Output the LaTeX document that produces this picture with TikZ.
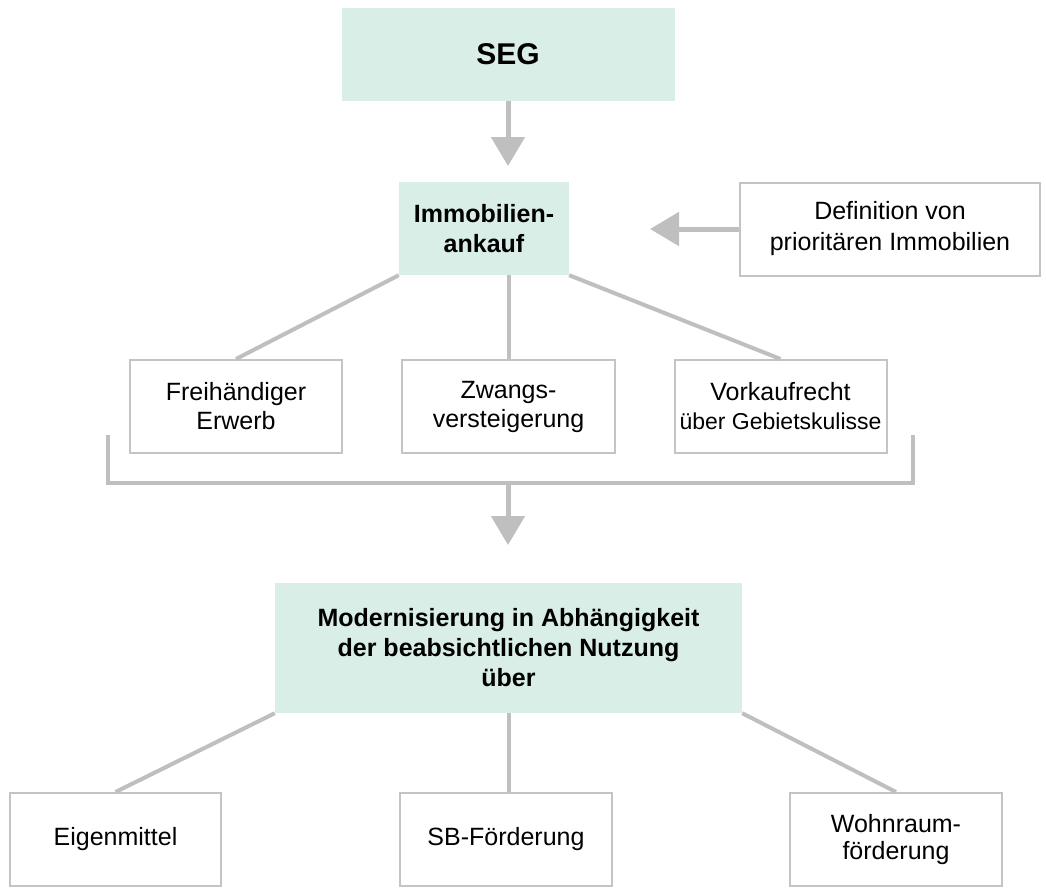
\documentclass[tikz,border=0pt]{standalone}
\usepackage{fontspec}
\setmainfont{Liberation Sans}
\usetikzlibrary{arrows.meta}
\definecolor{boxgreen}{HTML}{D9EEE7}
\definecolor{linegray}{HTML}{BFBFBF}
\definecolor{bordergray}{HTML}{C4C4C4}
\begin{document}
\begin{tikzpicture}[x=1pt,y=-1pt,
  greenbox/.style={fill=boxgreen, draw=none, inner sep=0pt, align=center, font=\bfseries\fontsize{25}{30}\selectfont},
  whitebox/.style={fill=white, draw=bordergray, line width=2pt, inner sep=0pt, align=center, font=\fontsize{25}{29}\selectfont, minimum width=212pt, minimum height=93pt},
  conn/.style={draw=linegray, line width=4pt},
  arr/.style={draw=linegray, line width=5pt, -{Triangle[width=33pt,length=29pt]}},
]
\useasboundingbox (0,0) rectangle (1046,887);
% nodes
\node[greenbox, minimum width=333pt, minimum height=93pt, font=\bfseries\fontsize{30}{36}\selectfont] (seg) at (508,54.5) {SEG};
\node[greenbox, minimum width=170pt, minimum height=93pt] (imm) at (484,228.5) {Immobilien-\\ankauf};
\node[whitebox, minimum width=300pt, font=\fontsize{25}{31}\selectfont] (def) at (890,229) {Definition von\\prioritären Immobilien};
\node[whitebox] (frei) at (236,406.5) {Freihändiger\\Erwerb};
\node[whitebox, minimum width=213pt] (zw) at (508.5,406.5) {Zwangs-\\versteigerung};
\node[whitebox] (vk) at (780.5,406.5) {Vorkaufrecht\\{\fontsize{23}{28}\selectfont über Gebietskulisse}};
\node[greenbox, minimum width=467pt, minimum height=130pt] (mod) at (508.5,648) {Modernisierung in Abhängigkeit\\der beabsichtlichen Nutzung\\über};
\node[whitebox, minimum width=211pt] (eig) at (115.5,839.5) {Eigenmittel};
\node[whitebox] (sb) at (506,839.5) {SB-Förderung};
\node[whitebox, font=\fontsize{25}{27}\selectfont] (wohn) at (896,839.5) {Wohnraum-\\förderung};
% arrows
\coordinate (t1) at (508,166);
\draw[arr] (seg.south) -- (t1);
\coordinate (t2) at (650,229);
\draw[arr] (def.west) -- (t2);
% connectors from Immobilienankauf
\draw[conn] (imm.south west) -- (frei.north);
\draw[conn] (imm.south -| zw.north) -- (zw.north);
\draw[conn] (imm.south east) -- (vk.north);
% bracket
\coordinate (bl) at (108,435);
\coordinate (blb) at (108,483);
\coordinate (brb) at (913,483);
\coordinate (br) at (913,435);
\draw[conn] (bl) -- (blb) -- (brb) -- (br);
\coordinate (bm) at (508,483);
\coordinate (t3) at (508,545);
\draw[arr] (bm) -- (t3);
% connectors from Modernisierung
\draw[conn] (mod.south west) -- (eig.north);
\draw[conn] (mod.south) -- (mod.south |- sb.north);
\draw[conn] (mod.south east) -- (wohn.north);
\end{tikzpicture}
\end{document}
